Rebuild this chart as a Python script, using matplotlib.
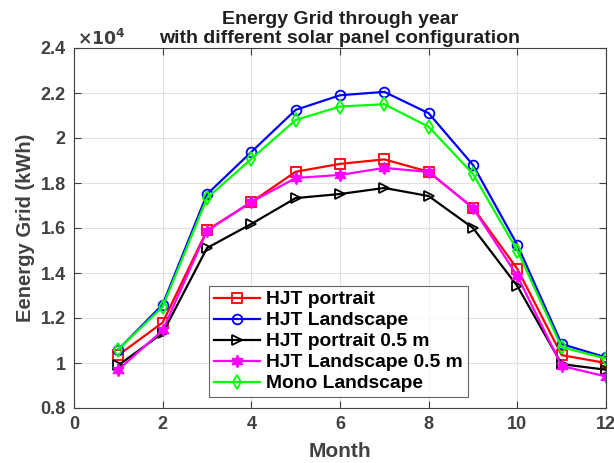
import numpy as np
import matplotlib.pyplot as plt
from matplotlib.ticker import FuncFormatter

# ------------------------------------------------------------
# data (kWh)
# ------------------------------------------------------------
months = [1, 2, 3, 4, 5, 6, 7, 8, 9, 10, 11, 12]

hjt_portrait = [10350, 11800, 15900, 17150, 18500, 18850, 19050, 18500, 16900, 14180, 10350, 10000]
hjt_landscape = [10600, 12600, 17500, 19380, 21250, 21900, 22050, 21100, 18800, 15250, 10840, 10250]
hjt_portrait_05 = [9900, 11330, 15110, 16180, 17330, 17510, 17780, 17420, 16000, 13420, 9950, 9700]
hjt_landscape_05 = [9700, 11450, 15870, 17160, 18220, 18360, 18670, 18490, 16890, 13870, 9870, 9400]
mono_landscape = [10600, 12500, 17330, 19070, 20800, 21400, 21500, 20500, 18400, 15000, 10700, 10200]

labels = ["HJT portrait", "HJT Landscape", "HJT portrait 0.5 m",
          "HJT Landscape 0.5 m", "Mono Landscape"]
series = [hjt_portrait, hjt_landscape, hjt_portrait_05, hjt_landscape_05, mono_landscape]
colors = ["#ff0000", "#0000ff", "#000000", "#ff00ff", "#00ff00"]
markers = ["s", "o", ">", (6, 1, 0), "d"]

plt.rcParams["font.family"] = ["Liberation Sans", "DejaVu Sans"]
plt.rcParams["font.weight"] = "bold"

fig = plt.figure(figsize=(6.14, 4.63), dpi=100)
ax = fig.add_axes([74 / 614, 55 / 463, 532 / 614, 360 / 463])

for y, lab, c, m in zip(series, labels, colors, markers):
    star = isinstance(m, tuple)
    ax.plot(months, y, color=c, marker=m, lw=1.6,
            markersize=9 if star else 7,
            markerfacecolor=c if star else "none",
            markeredgecolor=c, markeredgewidth=1.0 if star else 1.3,
            label=lab)

ax.set_xlim(0, 12)
ax.set_ylim(8000, 24000)
ax.set_xticks(np.arange(0, 13, 2))
ax.set_yticks(np.arange(8000, 24001, 2000))
ax.yaxis.set_major_formatter(FuncFormatter(lambda v, p: "%g" % (v / 1e4)))

ax.grid(True, color="#e0e0e0", lw=0.8)
ax.tick_params(direction="in", top=True, right=True, length=5, width=0.8,
               labelsize=13, colors="#404040", labelcolor="#404040", pad=6)
for s in ax.spines.values():
    s.set_color("#404040")
    s.set_linewidth(0.8)
for t in ax.get_xticklabels() + ax.get_yticklabels():
    t.set_fontweight("bold")

ax.set_xlabel("Month", fontsize=15, fontweight="bold", color="#404040", labelpad=6)
ax.set_ylabel("Eenergy Grid (kWh)", fontsize=14.5, fontweight="bold", color="#404040", labelpad=4)

# exponent label, MATLAB style
fig.text(77 / 614, 1 - 45 / 463, r"$\times\mathbf{10^4}$", fontsize=12.5,
         color="#404040", ha="left", va="baseline")

fig.text(340 / 614, 1 - 47 / 463, "Energy Grid through year\nwith different solar panel configuration",
         ha="center", va="bottom", fontsize=14, fontweight="bold", color="#202020",
         linespacing=1.15)

leg = ax.legend(loc="upper left", fontsize=13.9, frameon=True,
                fancybox=False, edgecolor="#404040", handlelength=2.4,
                handletextpad=0.3, borderpad=0.25, labelspacing=0.18,
                borderaxespad=0)
leg.set_bbox_to_anchor((209 / 614, 1 - 286 / 463), transform=fig.transFigure)
leg.get_frame().set_linewidth(0.8)
for t in leg.get_texts():
    t.set_fontweight("bold")

fig.savefig("out.png", dpi=100)
